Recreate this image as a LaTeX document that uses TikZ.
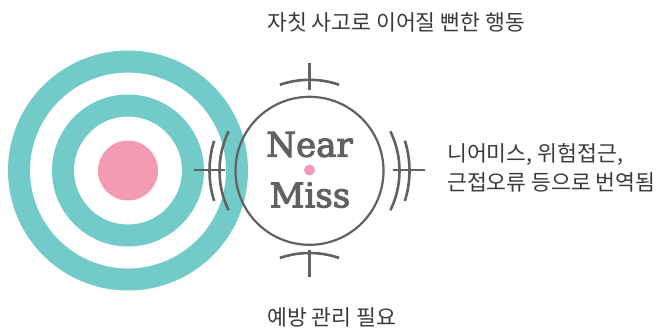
\documentclass[tikz,border=0pt]{standalone}
\usepackage{fontspec}
\usetikzlibrary{calc}
\newfontfamily\kr{Noto Sans CJK KR}
\newfontfamily\slab[FakeBold=3]{DejaVu Serif}
\definecolor{tealc}{HTML}{72CBC8}
\definecolor{pinkc}{HTML}{F39BB4}
\definecolor{grayc}{HTML}{616161}
\definecolor{txtc}{HTML}{3A3A3A}
\begin{document}
\begin{tikzpicture}[x=1bp,y=-1bp,
  ring/.style={draw=tealc,line width=22bp},
  hair/.style={draw=grayc,line width=2.6bp},
  krtext/.style={inner sep=0pt,anchor=base west,text=txtc,font=\kr\fontsize{21.6bp}{28bp}\selectfont},
  nmtext/.style={inner sep=0pt,anchor=base,text=grayc,font=\slab\fontsize{34bp}{40bp}\selectfont}]
\useasboundingbox (0,0) rectangle (663,331);
% target
\coordinate (T) at (128,170.5);
\draw[ring] (T) circle[radius=109];
\draw[ring] (T) circle[radius=65];
\fill[pinkc] (T) circle[radius=30];
% near miss circle
\coordinate (C) at (309.5,170.8);
\node[draw=grayc,line width=2.2bp,circle,minimum size=148bp,inner sep=0pt] (nm) at (C) {};
\fill[pinkc] (309.5,170) circle[radius=5.5];
% top crosshair
\coordinate (tt1) at (309.5,63.3);
\coordinate (tt2) at (309.5,90);
\draw[hair] (tt1) -- (tt2);
\draw[hair] ($(C)+(251:91)$) arc[start angle=251,end angle=289,radius=91];
% bottom crosshair
\coordinate (C2) at (309.5,344);
\coordinate (bt1) at (309.5,250);
\coordinate (bt2) at (309.5,277);
\draw[hair] (bt1) -- (bt2);
\draw[hair] ($(C2)+(251:91)$) arc[start angle=251,end angle=289,radius=91];
% right crosshair
\coordinate (rt1) at (392.7,170);
\coordinate (rt2) at (425,170);
\draw[hair] (rt1) -- (rt2);
\draw[hair] ($(C)+(-26:90)$) arc[start angle=-26,end angle=26,radius=90];
\draw[hair] ($(C)+(-17.5:100)$) arc[start angle=-17.5,end angle=17.5,radius=100];
% left crosshair
\coordinate (lt1) at (194,170);
\coordinate (lt2) at (225,170);
\draw[hair] (lt1) -- (lt2);
\draw[hair] ($(C)+(154:90)$) arc[start angle=154,end angle=206,radius=90];
\draw[hair] ($(C)+(162.5:100)$) arc[start angle=162.5,end angle=197.5,radius=100];
% texts
\node[nmtext] (near) at (309.5,156.7) {Near};
\node[nmtext] (miss) at (310,207.3) {Miss};
\node[krtext] (top) at (267,30) {자칫 사고로 이어질 뻔한 행동};
\node[krtext] (bot) at (267,325) {예방 관리 필요};
\node[krtext] (r1) at (447,161.5) {니어미스, 위험접근,};
\node[krtext] (r2) at (447,190.5) {근접오류 등으로 번역됨};
\end{tikzpicture}
\end{document}
